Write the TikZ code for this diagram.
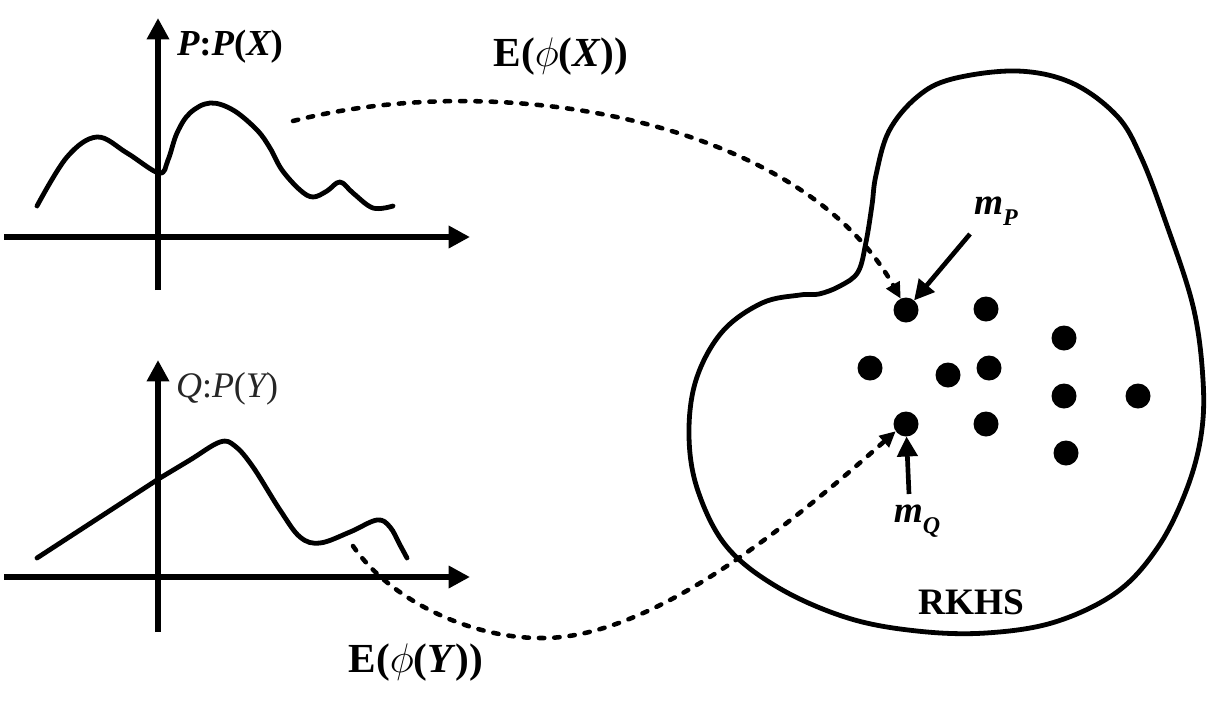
\RequirePackage{fix-cm}
\documentclass[tikz,border=0pt]{standalone}
\usepackage{fontspec}
\setmainfont{Liberation Serif}
\usetikzlibrary{arrows.meta}
\begin{document}
\begin{tikzpicture}[x=0.75pt,y=-0.75pt,
  axis/.style={line width=4.6pt,-{Triangle[length=16pt,width=16pt]}},
  density/.style={line width=3.6pt,line cap=round,line join=round},
  region/.style={line width=3.6pt,line join=round},
  embed/.style={line width=3.4pt,line cap=round,dash pattern=on 4pt off 7.5pt,-{Triangle[length=12pt,width=11pt]}},
  pointer/.style={line width=3.5pt,-{Triangle[length=15pt,width=15pt]}},
  dot/.style={circle,fill=black,inner sep=0pt,outer sep=0pt,minimum size=18.75pt},
  lab/.style={inner sep=0pt,text=black}
]
\useasboundingbox (0,0) rectangle (1214,704);

% axes
\draw[axis] (158,290) -- (158,18);
\draw[axis] (4,237) -- (470,237);
\draw[axis] (158,632) -- (158,360);
\draw[axis] (4,577) -- (470,577);

% density P
\draw[density] plot[smooth,tension=0.6] coordinates {(37,206) (67,157) (97,137) (127,153) (159,173) (168,160) (177,133) (190,113) (210,103) (233,110) (257,130) (270,148) (282,170) (300,190) (313,197) (327,191) (340,182) (353,193) (373,208) (393,206)};

% density Q
\draw[density] (37,558) -- (160,478) plot[smooth,tension=0.6] coordinates {(160,478) (190,460) (220,442) (235,446) (253,467) (280,510) (300,537) (320,543) (350,532) (377,520) (390,527) (400,545) (407,558)};

% RKHS region
\draw[region] plot[smooth cycle,tension=0.6] coordinates {(819,294) (840,286) (858,272) (866,242) (872,205) (876,175) (889,131) (917,97) (952,79) (1017,71) (1072,83) (1117,116) (1141,157) (1165,220) (1193,306) (1203,380) (1201,436) (1186,491) (1158,547) (1117,592) (1055,622) (986,633) (917,631) (848,618) (779,588) (727,547) (698,491) (689,436) (696,380) (722,332) (762,303) (800,295)};

% mean embeddings
\node[dot] (d1) at (906,310) {};
\node[dot] (d2) at (986,309) {};
\node[dot] (d3) at (1064,338) {};
\node[dot] (d4) at (870,368) {};
\node[dot] (d5) at (948,375) {};
\node[dot] (d6) at (989,368) {};
\node[dot] (d7) at (1064,396) {};
\node[dot] (d8) at (1138,396) {};
\node[dot] (d9) at (906,424) {};
\node[dot] (d10) at (986,424) {};
\node[dot] (d11) at (1066,453) {};

% labels
\node[lab] (lP) at (230,47) {\fontsize{27.5}{30}\selectfont\bfseries\itshape P\upshape:\itshape P\upshape(\itshape X\upshape)};
\node[lab,text=black!85] (lQ) at (227,389) {\fontsize{27}{29}\selectfont\itshape Q\upshape:\itshape P\upshape(\itshape Y\upshape)};
\node[lab] (eX) at (561,57) {\fontsize{31}{34}\selectfont\bfseries E($\phi$(\textit{X}))};
\node[lab] (eY) at (416,663) {\fontsize{31}{34}\selectfont\bfseries E($\phi$(\textit{Y}))};
\node[lab] (rk) at (971,602) {\fontsize{28}{30}\selectfont\bfseries RKHS};
\node[lab] (mPlab) at (996,211) {\fontsize{28}{30}\selectfont\bfseries\itshape m\raisebox{-0.28em}{\fontsize{18}{20}\selectfont P}};
\node[lab] (mQlab) at (917,521) {\fontsize{28}{30}\selectfont\bfseries\itshape m\raisebox{-0.28em}{\fontsize{18}{20}\selectfont Q}};

% pointers
\coordinate (mPtail) at (970,234);
\coordinate (mQtail) at (909,494);
\draw[pointer] (mPtail) -- (d1);
\draw[pointer] (mQtail) -- (d9);

% embedding maps
\coordinate (sX) at (293,121);
\draw[embed] (sX) .. controls (500,68) and (800,120) .. (d1.115);
\coordinate (sY) at (353,546);
\coordinate (bY) at (540,638);
\draw[embed] (sY) .. controls (390,600) and (470,638) .. (bY) .. controls (650,640) and (790,525) .. (d9.215);
\end{tikzpicture}
\end{document}
